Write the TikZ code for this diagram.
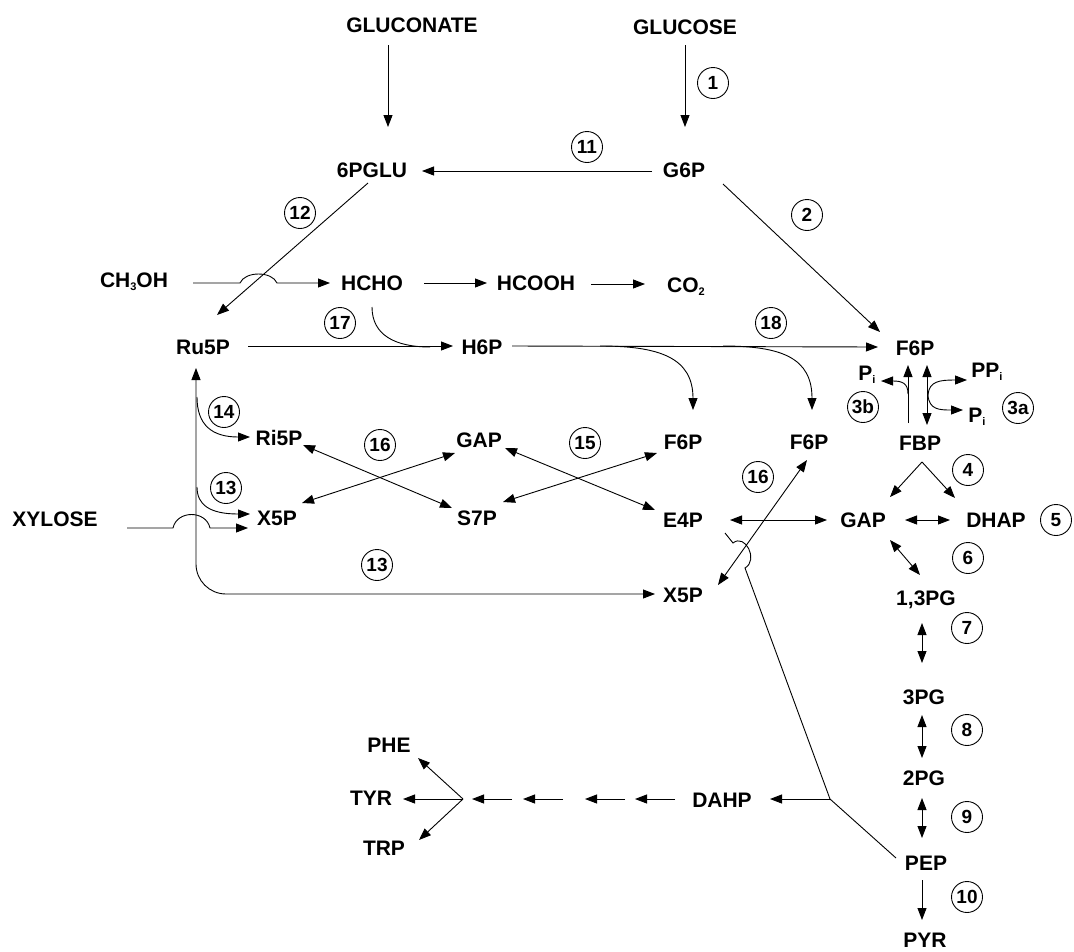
\documentclass[tikz,border=0pt]{standalone}
\usepackage{fontspec}
\setmainfont{Liberation Sans}
\usetikzlibrary{arrows.meta}
\newcommand{\subs}[1]{\smash{\raisebox{-3pt}{\fontsize{11}{11}\selectfont #1}}}
\begin{document}
\begin{tikzpicture}[x=1pt,y=-1pt,
  lbl/.style={inner sep=0pt,font=\fontsize{21}{21}\selectfont\bfseries},
  num/.style={draw,circle,minimum size=31pt,inner sep=0pt,line width=0.9pt,font=\fontsize{19}{19}\selectfont\bfseries},
  ln/.style={line width=0.9pt},
  arr/.style={ln,-{Triangle[length=12pt,width=9pt]}},
  darr/.style={ln,{Triangle[length=12pt,width=9pt]}-{Triangle[length=12pt,width=9pt]}}]
\useasboundingbox[fill=white] (0,0) rectangle (1074,951);
% metabolites
\node[lbl] (gluconate) at (412,25) {GLUCONATE};
\node[lbl] (glucose) at (685,27) {GLUCOSE};
\node[lbl] (pglu) at (372,170) {6PGLU};
\node[lbl] (gsp) at (684,170) {G6P};
\node[lbl] (meoh) at (134,280) {CH\subs{3}OH};
\node[lbl] (hcho) at (372,283) {HCHO};
\node[lbl] (hcooh) at (536,283) {HCOOH};
\node[lbl] (co) at (686,285) {CO\subs{2}};
\node[lbl] (ruP) at (203,347) {Ru5P};
\node[lbl] (hsp) at (482,347) {H6P};
\node[lbl] (fsp) at (915,348) {F6P};
\node[lbl] (pil) at (867,373) {P\subs{i}};
\node[lbl] (ppi) at (987,370) {PP\subs{i}};
\node[lbl] (pir) at (977,415) {P\subs{i}};
\node[lbl] (fbp) at (920,443) {FBP};
\node[lbl] (rip) at (279,438) {Ri5P};
\node[lbl] (gapa) at (479,440) {GAP};
\node[lbl] (fspa) at (683,442) {F6P};
\node[lbl] (fspb) at (809,442) {F6P};
\node[lbl] (xpa) at (277,518) {X5P};
\node[lbl] (ssp) at (477,518) {S7P};
\node[lbl] (efp) at (683,520) {E4P};
\node[lbl] (gapb) at (863,520) {GAP};
\node[lbl] (dhap) at (996,520) {DHAP};
\node[lbl] (xylose) at (55,519) {XYLOSE};
\node[lbl] (xpb) at (683,595) {X5P};
\node[lbl] (bpg) at (926,600) {1,3PG};
\node[lbl] (tpg) at (924,697) {3PG};
\node[lbl] (ppg) at (924,778) {2PG};
\node[lbl] (pep) at (926,863) {PEP};
\node[lbl] (pyr) at (925,940) {PYR};
\node[lbl] (dahp) at (722,800) {DAHP};
\node[lbl] (tyr) at (371,798) {TYR};
\node[lbl] (phe) at (389,745) {PHE};
\node[lbl] (trp) at (384,848) {TRP};
% reaction numbers
\node[num] (c1) at (713,83) {1};
\node[num] (c11) at (587,147) {11};
\node[num] (c12) at (300,213) {12};
\node[num] (c2) at (807,215) {2};
\node[num] (c17) at (340,323) {17};
\node[num] (c18) at (771,323) {18};
\node[num] (c3b) at (863,407) {3b};
\node[num] (c3a) at (1018,408) {3a};
\node[num] (c14) at (224,412) {14};
\node[num] (c16a) at (380,445) {16};
\node[num] (c15) at (585,443) {15};
\node[num] (c16b) at (758,477) {16};
\node[num] (c4) at (968,470) {4};
\node[num] (c13a) at (226,488) {13};
\node[num] (c5) at (1056,520) {5};
\node[num] (c6) at (968,558) {6};
\node[num] (c13b) at (377,565) {13};
\node[num] (c7) at (967,628) {7};
\node[num] (c8) at (967,730) {8};
\node[num] (c9) at (967,817) {9};
\node[num] (c10) at (967,897) {10};
% junctions
\coordinate (J) at (830,799);
\coordinate (F) at (463,799);
% top
\draw[arr] ([shift={(-24,20)}]gluconate.center) -- ([shift={(16,-43)}]pglu.center);
\draw[arr] ([shift={(0,18)}]glucose.center) -- ([shift={(1,-43)}]gsp.center);
\draw[arr] ([shift={(-32,1)}]gsp.center) -- ([shift={(50,1)}]pglu.center);
\draw[arr] ([shift={(-4,13)}]pglu.center) -- ([shift={(14,-32)}]ruP.center);
\draw[arr] ([shift={(39,14)}]gsp.center) -- ([shift={(-35,-16)}]fsp.center);
% methanol
\draw[arr] ([shift={(59,3)}]meoh.center) -- (240,283) .. controls (245,271) and (272,271) .. (277,283) -- ([shift={(-42,0)}]hcho.center);
\draw[arr] ([shift={(52,0)}]hcho.center) -- ([shift={(-49,0)}]hcooh.center);
\draw[arr] ([shift={(55,1)}]hcooh.center) -- ([shift={(-41,-1)}]co.center);
% RuMP
\draw[arr] ([shift={(45,-1)}]ruP.center) -- ([shift={(-29,-1)}]hsp.center);
\draw[ln] ([shift={(0,24)}]hcho.center) .. controls (372,335) and (395,347) .. ([shift={(-52,0)}]hsp.center);
\draw[arr] ([shift={(30,-1)}]hsp.center) -- ([shift={(-37,-1)}]fsp.center);
\draw[arr] ([shift={(118,-1)}]hsp.center) .. controls (660,346) and (693,358) .. ([shift={(10,-32)}]fspa.center);
\draw[arr] ([shift={(241,-1)}]hsp.center) .. controls (782,346) and (812,358) .. ([shift={(3,-32)}]fspb.center);
% Ru5P / X5P loop
\draw[darr,rounded corners=30pt] ([shift={(-7,21)}]ruP.center) -- (196,594) -- ([shift={(-28,-1)}]xpb.center);
\draw[arr] ([shift={(-6,50)}]ruP.center) .. controls (197,425) and (212,437) .. ([shift={(-29,-1)}]rip.center);
\draw[arr] ([shift={(-6,140)}]ruP.center) .. controls (197,505) and (210,514) .. ([shift={(-27,-4)}]xpa.center);
\draw[arr] ([shift={(72,9)}]xylose.center) -- (173,528) .. controls (177,510) and (206,510) .. (210,528) -- ([shift={(-29,10)}]xpa.center);
% transketolase / transaldolase
\draw[darr] ([shift={(24,7)}]rip.center) -- ([shift={(-25,-10)}]ssp.center);
\draw[darr] ([shift={(25,-15)}]xpa.center) -- ([shift={(-24,13)}]gapa.center);
\draw[darr] ([shift={(26,8)}]gapa.center) -- ([shift={(-28,-10)}]efp.center);
\draw[darr] ([shift={(26,-16)}]ssp.center) -- ([shift={(-26,11)}]fspa.center);
\draw[darr] ([shift={(47,0)}]efp.center) -- ([shift={(-36,0)}]gapb.center);
\draw[darr] ([shift={(-2,18)}]fspb.center) -- ([shift={(35,-10)}]xpb.center);
% E4P + PEP -> DAHP
\draw[ln] ([shift={(42,13)}]efp.center) -- (733,543) .. controls (745,533) and (759,560) .. (745,568) -- (J) -- ([shift={(-30,-5)}]pep.center);
\draw[arr] (J) -- ([shift={(48,-1)}]dahp.center);
\draw[arr] ([shift={(-47,-1)}]dahp.center) -- (635,799);
\draw[arr] (625,799) -- (585,799);
\draw[arr] (563,799) -- (523,799);
\draw[arr] (512,799) -- ([xshift=9pt]F);
\draw[arr] (F) -- ([shift={(32,1)}]tyr.center);
\draw[arr] (F) -- ([shift={(29,13)}]phe.center);
\draw[arr] (F) -- ([shift={(35,-8)}]trp.center);
% glycolysis
\draw[arr] ([shift={(-12,-20)}]fbp.center) -- ([shift={(-7,17)}]fsp.center);
\draw[arr] (908,394) .. controls (908,383) and (902,381) .. ([shift={(14,8)}]pil.center);
\draw[darr] ([shift={(7,-18)}]fbp.center) -- ([shift={(12,17)}]fsp.center);
\draw[arr] (928,395) .. controls (929,381) and (940,380) .. ([shift={(-20,10)}]ppi.center);
\draw[arr] (928,395) .. controls (929,410) and (940,410) .. ([shift={(-14,-5)}]pir.center);
\draw[arr] ([shift={(2,19)}]fbp.center) -- ([shift={(27,-23)}]gapb.center);
\draw[arr] ([shift={(2,19)}]fbp.center) -- ([shift={(-41,-22)}]dhap.center);
\draw[darr] ([shift={(42,0)}]gapb.center) -- ([shift={(-46,0)}]dhap.center);
\draw[darr] ([shift={(27,20)}]gapb.center) -- ([shift={(-6,-25)}]bpg.center);
\draw[darr] ([shift={(-4,23)}]bpg.center) -- ([shift={(-2,-34)}]tpg.center);
\draw[darr] ([shift={(-2,18)}]tpg.center) -- ([shift={(-2,-20)}]ppg.center);
\draw[darr] ([shift={(-2,20)}]ppg.center) -- ([shift={(-4,-25)}]pep.center);
\draw[arr] ([shift={(-4,17)}]pep.center) -- ([shift={(-3,-20)}]pyr.center);
\end{tikzpicture}
\end{document}
